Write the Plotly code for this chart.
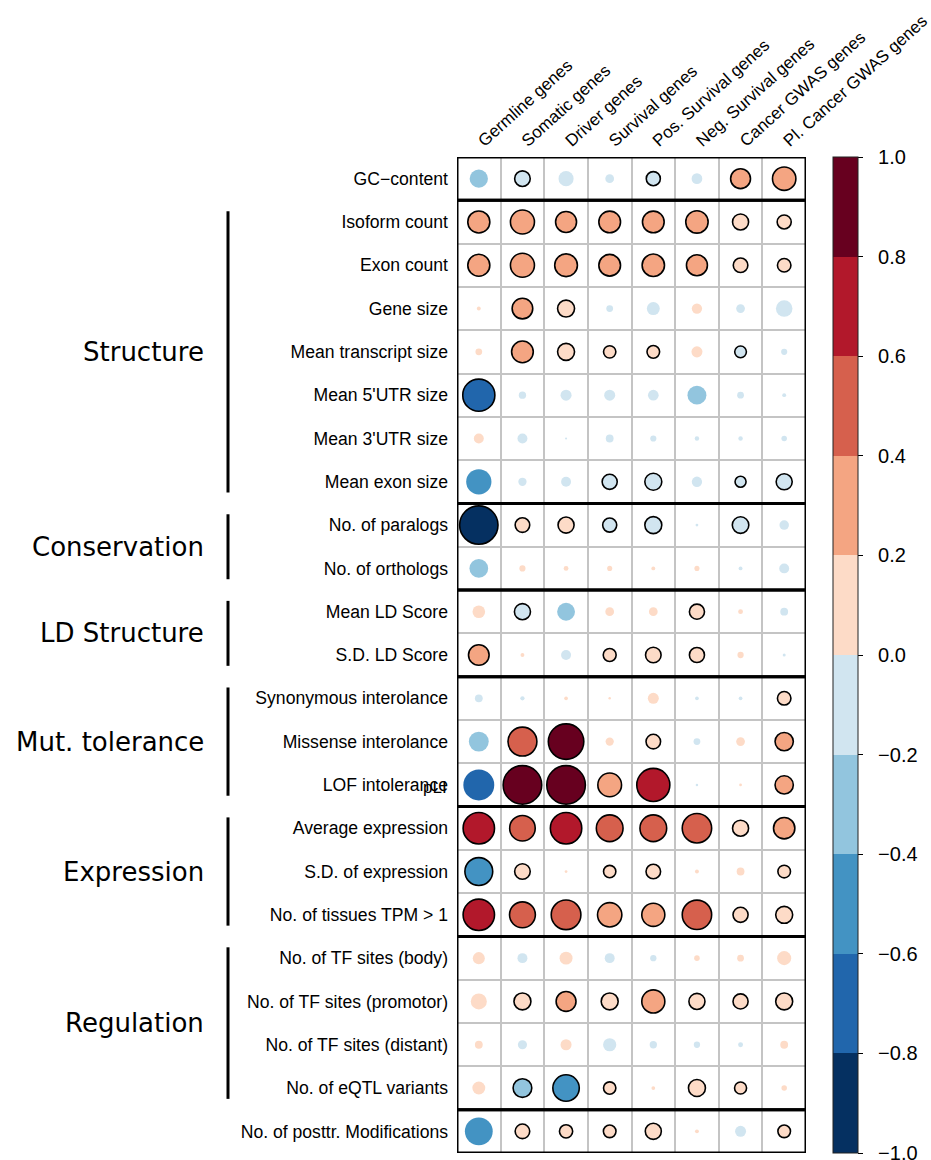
import plotly.graph_objects as go
import numpy as np

columns = ["Germline genes", "Somatic genes", "Driver genes", "Survival genes",
           "Pos. Survival genes", "Neg. Survival genes", "Cancer GWAS genes",
           "Pl. Cancer GWAS genes"]

features = ["GC\u2212content", "Isoform count", "Exon count", "Gene size",
            "Mean transcript size", "Mean 5'UTR size", "Mean 3'UTR size",
            "Mean exon size", "No. of paralogs", "No. of orthologs",
            "Mean LD Score", "S.D. LD Score", "Synonymous interolance",
            "Missense interolance", "LOF intolerance", "Average expression",
            "S.D. of expression", "No. of tissues TPM > 1",
            "No. of TF sites (body)", "No. of TF sites (promotor)",
            "No. of TF sites (distant)", "No. of eQTL variants",
            "No. of posttr. Modifications"]

# correlation values per column (rows in the order of `features`)
germline = [-0.22, 0.32, 0.32, 0.01, 0.03, -0.68, 0.065, -0.42, -0.97, -0.23, 0.105, 0.28,
            -0.04, -0.26, -0.63, 0.65, -0.51, 0.65, 0.095, 0.17, 0.04, 0.11, -0.51]
somatic = [-0.16, 0.38, 0.38, 0.28, 0.31, -0.035, -0.065, -0.045, 0.14, 0.025, -0.17, 0.01,
           -0.012, 0.55, 0.98, 0.43, 0.16, 0.44, -0.065, 0.19, -0.055, -0.23, 0.14]
driver = [-0.15, 0.29, 0.34, 0.19, 0.19, -0.08, -0.003, -0.065, 0.17, 0.015, -0.21, -0.065,
          0.009, 0.83, 0.98, 0.65, 0.005, 0.58, 0.11, 0.26, 0.08, -0.46, 0.115]
survival = [-0.05, 0.31, 0.31, -0.03, 0.10, -0.08, -0.04, -0.15, -0.13, 0.017, 0.05, 0.11,
            0.004, 0.045, 0.37, 0.47, 0.10, 0.39, -0.065, 0.19, -0.115, 0.10, 0.105]
pos_survival = [-0.13, 0.31, 0.33, -0.11, 0.105, -0.075, -0.025, -0.19, -0.19, 0.01, 0.05, 0.16,
                0.08, 0.14, 0.72, 0.47, 0.14, 0.35, -0.026, 0.35, -0.035, 0.009, 0.17]
neg_survival = [-0.075, 0.33, 0.29, 0.07, 0.08, -0.235, -0.013, -0.07, -0.005, 0.017, 0.15, 0.15,
                -0.009, -0.03, -0.004, 0.57, 0.01, 0.57, 0.02, 0.17, -0.026, 0.19, 0.01]
cancer_gwas = [0.26, 0.17, 0.14, -0.05, -0.09, -0.03, -0.013, -0.08, -0.18, -0.01, 0.015, 0.026,
               -0.009, 0.05, 0.005, 0.17, 0.04, 0.15, 0.03, 0.15, -0.016, 0.095, -0.08]
pl_cancer_gwas = [0.36, 0.13, 0.12, -0.18, -0.025, -0.01, -0.02, -0.17, -0.06, -0.065, -0.04, -0.006,
                  0.12, 0.22, 0.22, 0.30, 0.105, 0.19, 0.13, 0.19, 0.04, 0.02, 0.105]

# significance flags (outlined circles)
sig_germline = [0, 1, 1, 0, 0, 1, 0, 0, 1, 0, 0, 1, 0, 0, 0, 1, 1, 1, 0, 0, 0, 0, 0]
sig_somatic = [1, 1, 1, 1, 1, 0, 0, 0, 1, 0, 1, 0, 0, 1, 1, 1, 1, 1, 0, 1, 0, 1, 1]
sig_driver = [0, 1, 1, 1, 1, 0, 0, 0, 1, 0, 0, 0, 0, 1, 1, 1, 0, 1, 0, 1, 0, 1, 1]
sig_survival = [0, 1, 1, 0, 1, 0, 0, 1, 1, 0, 0, 1, 0, 0, 1, 1, 1, 1, 0, 1, 0, 1, 1]
sig_pos_survival = [1, 1, 1, 0, 1, 0, 0, 1, 1, 0, 0, 1, 0, 1, 1, 1, 1, 1, 0, 1, 0, 0, 1]
sig_neg_survival = [0, 1, 1, 0, 0, 0, 0, 0, 0, 0, 1, 1, 0, 0, 0, 1, 0, 1, 0, 1, 0, 1, 0]
sig_cancer_gwas = [1, 1, 1, 0, 1, 0, 0, 1, 1, 0, 0, 0, 0, 0, 0, 1, 0, 1, 0, 1, 0, 1, 0]
sig_pl_cancer_gwas = [1, 1, 1, 0, 0, 0, 0, 1, 0, 0, 0, 0, 1, 1, 1, 1, 1, 1, 0, 1, 0, 0, 1]

groups = ["Structure", "Conservation", "LD Structure", "Mut. tolerance", "Expression", "Regulation"]
group_first = [1, 8, 10, 12, 15, 18]
group_last = [7, 9, 11, 14, 17, 21]
box_first = [0, 1, 8, 10, 12, 15, 18, 22]
box_last = [0, 7, 9, 11, 14, 17, 21, 22]

colorbar_ticks = [1.0, 0.8, 0.6, 0.4, 0.2, 0.0, -0.2, -0.4, -0.6, -0.8, -1.0]

palette = ["#053061", "#2166AC", "#4393C3", "#92C5DE", "#D1E5F0",
           "#FDDBC7", "#F4A582", "#D6604D", "#B2182B", "#67001F"]

value_cols = [germline, somatic, driver, survival, pos_survival, neg_survival,
              cancer_gwas, pl_cancer_gwas]
sig_cols = [sig_germline, sig_somatic, sig_driver, sig_survival, sig_pos_survival,
            sig_neg_survival, sig_cancer_gwas, sig_pl_cancer_gwas]

W, H = 931, 1160
ML, MR, MT, MB = 457, 125, 157, 7
plot_w = W - ML - MR
plot_h = H - MT - MB
ncol, nrow = len(columns), len(features)
cell = min(plot_w / ncol, plot_h / nrow)

xs, ys, vals, sizes, lcols, lwids = [], [], [], [], [], []
for j, (vc, sc) in enumerate(zip(value_cols, sig_cols)):
    for i, (v, s) in enumerate(zip(vc, sc)):
        xs.append(j)
        ys.append(i)
        vals.append(v)
        sizes.append(0.9 * cell * np.sqrt(abs(v)))
        lcols.append("black" if s else "rgba(0,0,0,0)")
        lwids.append(1.6 if s else 0)

scale = []
for k, c in enumerate(palette):
    scale.append([k / len(palette), c])
    scale.append([(k + 1) / len(palette), c])

NB = "\u00a0\u00a0"
fig = go.Figure()
fig.add_trace(go.Scatter(
    x=xs, y=ys, mode="markers", hoverinfo="skip", showlegend=False,
    marker=dict(
        size=sizes, color=vals, colorscale=scale, cmin=-1, cmax=1, opacity=1,
        line=dict(color=lcols, width=lwids),
        colorbar=dict(
            x=(833 - ML) / plot_w, xanchor="left", xpad=0, ypad=0,
            y=0.5, yanchor="middle", len=1, lenmode="fraction",
            thickness=25, thicknessmode="pixels",
            outlinewidth=1, outlinecolor="#222",
            tickvals=colorbar_ticks,
            ticktext=[NB + ("\u2212" if t < 0 else "") + f"{abs(t):.1f}" for t in colorbar_ticks],
            ticks="outside", ticklen=5, tickwidth=1, tickcolor="black",
            ticklabeloverflow="allow",
            tickfont=dict(family="Liberation Sans, Arial", size=20, color="black"),
        ),
    ),
))

grid_color = "#C4C4C4"
fig.update_xaxes(
    range=[-0.5, ncol - 0.5], side="top", tickmode="array",
    tickvals=list(range(ncol)), ticktext=columns, tickangle=-42,
    tickfont=dict(family="Liberation Sans, Arial", size=17, color="black"),
    showgrid=False, zeroline=False, showline=False, ticks="",
    ticklabelstandoff=3, ticklabeloverflow="allow",
    minor=dict(tickmode="array", tickvals=[k - 0.5 for k in range(ncol + 1)],
               showgrid=True, gridcolor=grid_color, gridwidth=2, ticks=""),
)
fig.update_yaxes(
    range=[nrow - 0.5, -0.5], tickmode="array",
    tickvals=list(range(nrow)), ticktext=features,
    tickfont=dict(family="Liberation Sans, Arial", size=17.6, color="black"),
    showgrid=False, zeroline=False, showline=False, ticks="",
    ticklabelstandoff=8, ticklabeloverflow="allow",
    minor=dict(tickmode="array", tickvals=[k - 0.5 for k in range(nrow + 1)],
               showgrid=True, gridcolor=grid_color, gridwidth=2, ticks=""),
)

shapes = []
for a, b in zip(box_first, box_last):
    shapes.append(dict(type="rect", xref="x", yref="y", x0=-0.5, x1=ncol - 0.5,
                       y0=a - 0.5, y1=b + 0.5, line=dict(color="black", width=3),
                       fillcolor="rgba(0,0,0,0)", layer="above"))
bx = (228 - ML) / plot_w
annotations = []
for name, a, b in zip(groups, group_first, group_last):
    shapes.append(dict(type="line", xref="paper", yref="y", x0=bx, x1=bx,
                       y0=a - 0.25, y1=b + 0.25, line=dict(color="black", width=3)))
    annotations.append(dict(xref="paper", yref="y", x=(206 - ML) / plot_w, y=(a + b) / 2,
                            text=name, showarrow=False, xanchor="right", yanchor="middle",
                            font=dict(family="DejaVu Sans", size=26, color="black")))

# overlapping leftover label on the LOF row (as in the original figure)
annotations.append(dict(xref="paper", yref="y", x=(449 - ML) / plot_w,
                        y=features.index("LOF intolerance") + 0.06,
                        text="pLI", showarrow=False, xanchor="right", yanchor="middle",
                        font=dict(family="Liberation Sans, Arial", size=17, color="black")))

fig.update_layout(
    width=W, height=H, margin=dict(l=ML, r=MR, t=MT, b=MB, autoexpand=False),
    paper_bgcolor="white", plot_bgcolor="white",
    shapes=shapes, annotations=annotations,
)

fig.write_html("out.html", config={"displayModeBar": False},
               post_script="document.body.style.margin='0px';")
